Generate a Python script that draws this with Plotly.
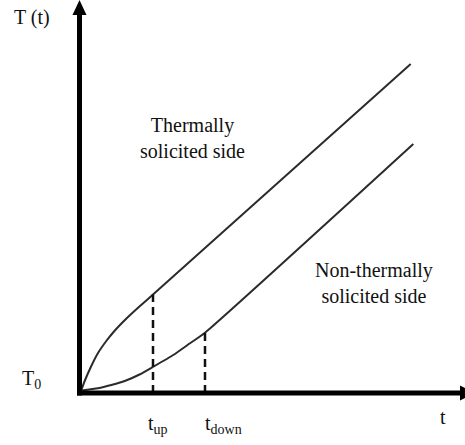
import plotly.graph_objects as go

# Data (arbitrary units: t along x, T - T0 along y)
t_upper = [1.5, 5.2, 11.8, 18.5, 26.8, 34.5, 47.2, 60.5, 73.5, 331.2]
T_upper = [2.0, 12.0, 27.0, 40.0, 52.0, 61.5, 74.7, 87.0, 98.5, 329.0]

t_lower = [1.5, 18.5, 31.8, 46.5, 60.0, 73.8, 93.8, 110.5, 125.5, 333.8]
T_lower = [2.5, 4.7, 8.0, 12.5, 18.5, 26.3, 38.0, 49.7, 60.3, 249.0]

t_up = 73.5
t_down = 125.5
T_at_up = 98.5
T_at_down = 60.3

font_family = "Liberation Serif, Times New Roman, Times, serif"
line_color = "#2b2b2b"

fig = go.Figure()
fig.add_trace(go.Scatter(x=t_upper, y=T_upper, mode="lines",
                         line=dict(color=line_color, width=2, shape="spline", smoothing=0.5),
                         hoverinfo="skip", showlegend=False))
fig.add_trace(go.Scatter(x=t_lower, y=T_lower, mode="lines",
                         line=dict(color=line_color, width=2, shape="spline", smoothing=0.5),
                         hoverinfo="skip", showlegend=False))
# dashed verticals
fig.add_trace(go.Scatter(x=[t_up, t_up], y=[0, T_at_up], mode="lines",
                         line=dict(color="#111", width=2.5, dash="8px,5px"),
                         hoverinfo="skip", showlegend=False))
fig.add_trace(go.Scatter(x=[t_down, t_down], y=[0, T_at_down], mode="lines",
                         line=dict(color="#111", width=2.5, dash="8px,5px"),
                         hoverinfo="skip", showlegend=False))

shapes = [
    # y axis shaft
    dict(type="line", x0=0, x1=0, y0=-2.5, y1=380, line=dict(color="black", width=5)),
    # x axis shaft
    dict(type="line", x0=-2.5, x1=382, y0=0, y1=0, line=dict(color="black", width=5)),
    # y arrowhead
    dict(type="path", path="M -7 378 L 7 378 L 0 393 Z", fillcolor="black",
         line=dict(color="black", width=0)),
    # x arrowhead
    dict(type="path", path="M 380.5 7.5 L 380.5 -7.5 L 395 0 Z", fillcolor="black",
         line=dict(color="black", width=0)),
]

txt = dict(family=font_family, size=20, color="#111")
annotations = [
    dict(x=-47.5, y=376, text="T (t)", showarrow=False, font=txt),
    dict(x=-48.5, y=14, text="T<sub>0</sub>", showarrow=False, font=txt),
    dict(x=66.5, y=-31, text="t<sub>up</sub>", showarrow=False, font=txt, xanchor="left"),
    dict(x=123.5, y=-31, text="t<sub>down</sub>", showarrow=False, font=txt, xanchor="left"),
    dict(x=363.5, y=-24, text="t", showarrow=False, font=txt),
    dict(x=112.5, y=255.5, text="Thermally<br>solicited side", showarrow=False, font=txt),
    dict(x=294.5, y=110.5, text="Non-thermally<br>solicited side", showarrow=False, font=txt),
]

fig.update_layout(
    width=465, height=445,
    margin=dict(l=0, r=0, t=0, b=0),
    paper_bgcolor="white", plot_bgcolor="white",
    xaxis=dict(range=[-79.5, 385.5], visible=False, fixedrange=True),
    yaxis=dict(range=[-52, 393], visible=False, fixedrange=True),
    shapes=shapes, annotations=annotations,
)

fig.write_html("out.html", config={"displayModeBar": False},
               post_script="document.body.style.margin='0';document.body.style.overflow='hidden';")
